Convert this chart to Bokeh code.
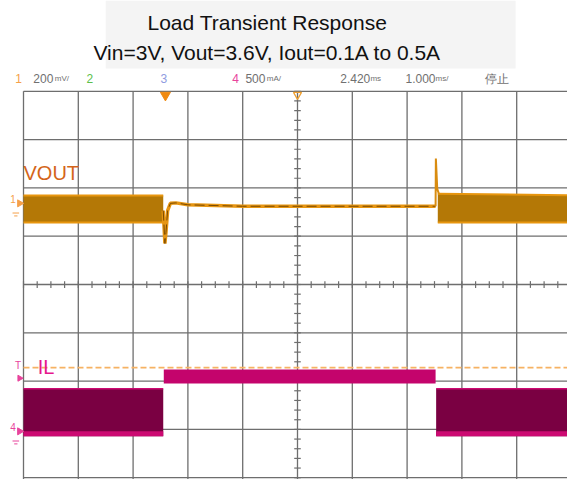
from bokeh.plotting import figure
from bokeh.models import Range1d
from bokeh.embed import file_html
from bokeh.resources import INLINE
from bokeh.core.properties import value

# ---------------- data ----------------
grid_time_ms = list(range(0, 11))        # 1.000 ms/div, 10 divisions
grid_div = list(range(-4, 5))            # 8 vertical divisions

CH1_SCALE_MV = 200.0   # 200 mV/div
CH1_OFFSET_DIV = 1.68
CH4_SCALE_A = 0.5      # 500 mA/div
CH4_OFFSET_DIV = -3.04

# VOUT (AC deviation, mV)
vout_light1_t = [0.0, 2.55]
vout_light1_top = [33, 33]
vout_light1_bot = [-79, -79]
vout_heavy_t = [2.55, 2.58, 2.60, 2.63, 2.68, 2.78, 3.0, 4.0, 7.52]
vout_heavy_mv = [-30, -166, -120, -30, 0, 2, -6, -12, -12]
vout_spike_t = [7.52, 7.525, 7.55, 7.58]
vout_spike_mv = [-12, 186, 60, 40]
vout_light2_t = [7.56, 10.0]
vout_light2_top = [40, 33]
vout_light2_bot = [-79, -79]

# IL (A)
il_light1_t = [0.0, 2.55]
il_light1_top = [0.44, 0.44]
il_light1_bot = [-0.05, -0.05]
il_heavy_t = [2.56, 7.52]
il_heavy_top = [0.64, 0.64]
il_heavy_bot = [0.495, 0.495]
il_light2_t = [7.53, 10.0]
il_light2_top = [0.44, 0.44]
il_light2_bot = [-0.05, -0.05]
trigger_level_a = 0.66
trigger_time_ms = 2.59

# scope header row
header_x = [-0.15, 0.18, 1.15, 2.5, 3.81, 4.05, 5.78, 6.97, 8.43]
header_text = ["1", "200", "2", "3", "4", "500", "2.420", "1.000", "停止"]
header_color = ["#f5a04a", "#707070", "#5cbf4a", "#8f9be0", "#e8449c", "#707070",
                "#707070", "#707070", "#707070"]
unit_x = [0.57, 4.44, 6.33, 7.52]
unit_text = ["mV/", "mA/", "ms", "ms/"]


def v_div(mv):
    return [CH1_OFFSET_DIV + m / CH1_SCALE_MV for m in mv]


def i_div(a):
    return [CH4_OFFSET_DIV + x / CH4_SCALE_A for x in a]


FONT = value("Liberation Sans")

p = figure(width=567, height=479, x_range=Range1d(-0.4197, 9.927),
           y_range=Range1d(-4.037, 5.880), output_backend="svg",
           toolbar_location=None, min_border=0,
           x_axis_location=None, y_axis_location=None)
p.grid.visible = False
p.outline_line_color = None
p.background_fill_color = "white"
p.border_fill_color = "white"

# light grey title background
p.quad(left=[1.5], right=[8.98], bottom=[4.47], top=[5.88],
       fill_color="#f4f4f4", line_color=None)

# ---------------- grid ----------------
p.segment(x0=grid_time_ms, x1=grid_time_ms, y0=[-4.2] * len(grid_time_ms),
          y1=[4] * len(grid_time_ms), line_color="#6e6e6e", line_width=1.3)
p.segment(x0=[0] * len(grid_div), x1=[10.3] * len(grid_div), y0=grid_div,
          y1=grid_div, line_color="#6e6e6e", line_width=1.3)
# crosshair minor ticks
tx = [k * 0.25 for k in range(0, 41)]
p.segment(x0=tx, x1=tx, y0=[-0.07] * len(tx), y1=[0.07] * len(tx),
          line_color="#6e6e6e", line_width=1.2)
ty = [-4 + k * 0.2 for k in range(0, 41)]
p.segment(x0=[4.94] * len(ty), x1=[5.06] * len(ty), y0=ty, y1=ty,
          line_color="#6e6e6e", line_width=1.2)

# ---------------- trigger level (dashed) ----------------
p.line(x=[0, 10.3], y=i_div([trigger_level_a, trigger_level_a]),
       line_color="#f6b263", line_width=1.6, line_dash="6 3")

# ---------------- VOUT ----------------
VO_FILL = "#b47806"
VO_EDGE = "#e8960f"
for tt, top, bot in [(vout_light1_t, vout_light1_top, vout_light1_bot),
                     (vout_light2_t, vout_light2_top, vout_light2_bot)]:
    p.varea(x=tt, y1=v_div(bot), y2=v_div(top), fill_color=VO_FILL)
    p.line(x=tt, y=v_div(top), line_color=VO_EDGE, line_width=2)
    p.line(x=tt, y=v_div(bot), line_color=VO_EDGE, line_width=2)
p.line(x=vout_heavy_t, y=v_div(vout_heavy_mv), line_color="#e69512", line_width=3.5)
p.line(x=vout_heavy_t, y=v_div(vout_heavy_mv), line_color="#7a4a00", line_width=1,
       line_dash="10 4")
p.line(x=vout_spike_t, y=v_div(vout_spike_mv), line_color="#d98c10", line_width=2)

# ---------------- IL ----------------
IL_DARK = "#7a0042"
IL_BRIGHT = "#cc0a72"
for tt, top, bot in [(il_light1_t, il_light1_top, il_light1_bot),
                     (il_light2_t, il_light2_top, il_light2_bot)]:
    p.varea(x=tt, y1=i_div(bot), y2=i_div(top), fill_color=IL_DARK)
    p.varea(x=tt, y1=i_div(bot), y2=i_div([b + 0.05 for b in bot]), fill_color=IL_BRIGHT)
    p.line(x=tt, y=i_div(top), line_color=IL_BRIGHT, line_width=1.5)
p.varea(x=il_heavy_t, y1=i_div(il_heavy_bot), y2=i_div(il_heavy_top), fill_color="#c4046c")

# ---------------- markers ----------------
p.scatter(x=[trigger_time_ms], y=[3.92], marker="inverted_triangle", size=10,
          fill_color="#f08a10", line_color="#f08a10")
p.scatter(x=[5.0], y=[3.93], marker="inverted_triangle", size=8,
          fill_color=None, line_color="#f0a030", line_width=1.3)
# channel 1 marker
p.text(x=[-0.19], y=[CH1_OFFSET_DIV + 0.08], text=["1"], text_color="#f5a04a",
       text_font_size="10px", text_align="center", text_baseline="middle", text_font=FONT)
p.scatter(x=[-0.07], y=[CH1_OFFSET_DIV], marker="triangle", angle=-1.5708, size=7,
          fill_color="#f5a04a", line_color="#f5a04a")
p.segment(x0=[-0.2, -0.17], x1=[-0.08, -0.11], y0=[CH1_OFFSET_DIV - 0.2, CH1_OFFSET_DIV - 0.26],
          y1=[CH1_OFFSET_DIV - 0.2, CH1_OFFSET_DIV - 0.26], line_color="#f5a04a", line_width=1)
# channel 4 marker
p.text(x=[-0.19], y=[CH4_OFFSET_DIV + 0.08], text=["4"], text_color="#e8449c",
       text_font_size="10px", text_align="center", text_baseline="middle", text_font=FONT)
p.scatter(x=[-0.07], y=[CH4_OFFSET_DIV], marker="triangle", angle=-1.5708, size=7,
          fill_color="#e8449c", line_color="#e8449c")
p.segment(x0=[-0.2, -0.17], x1=[-0.08, -0.11], y0=[CH4_OFFSET_DIV - 0.2, CH4_OFFSET_DIV - 0.26],
          y1=[CH4_OFFSET_DIV - 0.2, CH4_OFFSET_DIV - 0.26], line_color="#e8449c", line_width=1)
# trigger level marker
p.text(x=[-0.1], y=[i_div([trigger_level_a])[0] + 0.05], text=["T"], text_color="#e8449c",
       text_font_size="10px", text_align="center", text_baseline="middle", text_font=FONT)
p.scatter(x=[-0.07], y=[i_div([trigger_level_a])[0] - 0.22], marker="triangle", angle=-1.5708,
          size=6, fill_color="#e8449c", line_color="#e8449c")

# ---------------- labels ----------------
p.text(x=[0.0], y=[2.30], text=["VOUT"], text_color="#d4651a", text_font_size="20px",
       text_align="left", text_baseline="middle", text_font=FONT)
p.text(x=[0.26], y=[-1.70], text=["IL"], text_color="#e6168c", text_font_size="20px",
       text_align="left", text_baseline="middle", text_font=FONT)

# header row
p.text(x=header_x, y=[4.265] * len(header_x), text=header_text, text_color=header_color,
       text_font_size="12px", text_align="left", text_baseline="middle", text_font=FONT)
p.text(x=unit_x, y=[4.265] * len(unit_x), text=unit_text, text_color="#707070",
       text_font_size="8px", text_align="left", text_baseline="middle", text_font=FONT)

# title
p.text(x=[4.45, 4.45], y=[5.42, 4.80],
       text=["Load Transient Response", "Vin=3V, Vout=3.6V, Iout=0.1A to 0.5A"],
       text_color="#111111", text_font_size="21px", text_align="center",
       text_baseline="middle", text_font=FONT)

open("out.html", "w").write(file_html(p, INLINE))
